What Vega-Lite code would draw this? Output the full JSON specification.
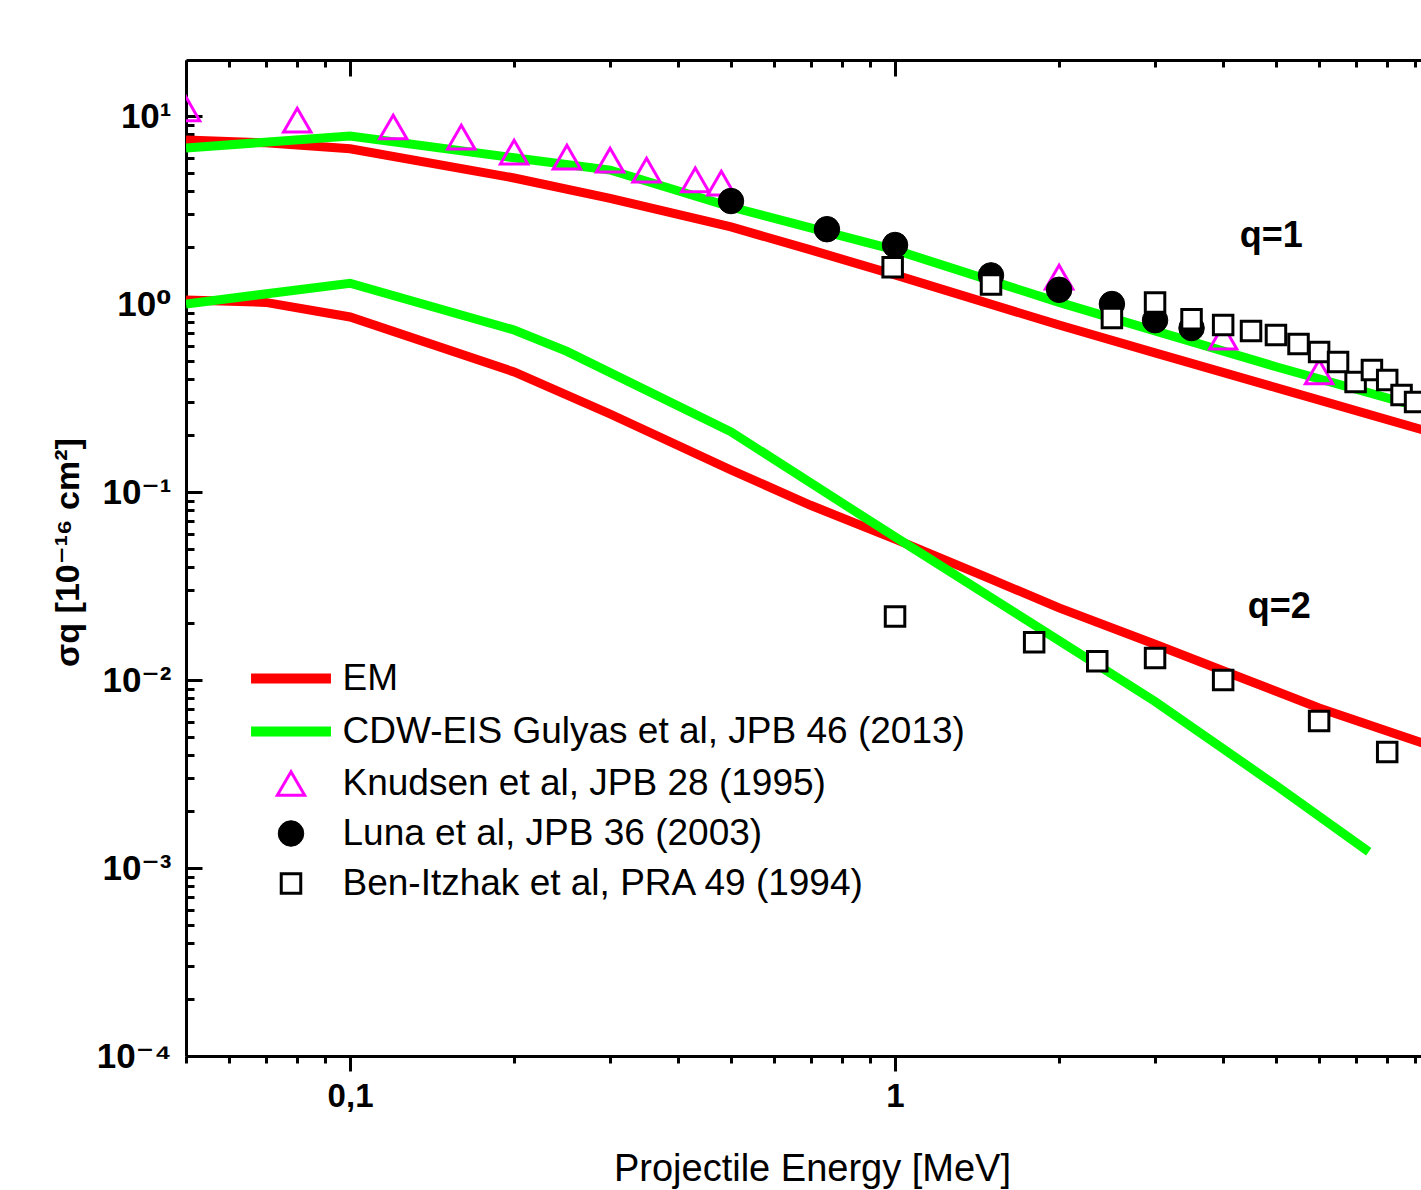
{
  "$schema": "https://vega.github.io/schema/vega-lite/v6.json",
  "width": 1235,
  "height": 996,
  "autosize": {"type": "none"},
  "padding": {"left": 186, "top": 60, "right": 0, "bottom": 134},
  "background": "white",
  "config": {
    "font": "Liberation Sans",
    "view": {"stroke": null},
    "axis": {"domainColor": "black", "domainWidth": 3, "tickColor": "black", "tickWidth": 3, "grid": false, "labelColor": "black", "titleColor": "black", "labelFont": "Liberation Sans, DejaVu Sans", "titleFont": "Liberation Sans, DejaVu Sans"},
    "legend": {"orient": "none", "legendX": 86.5, "legendY": 600, "padding": 0, "rowPadding": 12, "labelFontSize": 37, "labelFont": "Liberation Sans", "labelColor": "black", "labelLimit": 0, "symbolOffset": 0, "labelOffset": 33, "symbolFillColor": "transparent", "labelBaseline": "middle"}
  },
  "datasets": {
    "lines": [
      {"series": "EM", "q": 1, "E": 0.05, "s": 7.45},
      {"series": "EM", "q": 1, "E": 0.07, "s": 7.2},
      {"series": "EM", "q": 1, "E": 0.1, "s": 6.7},
      {"series": "EM", "q": 1, "E": 0.2, "s": 4.68},
      {"series": "EM", "q": 1, "E": 0.3, "s": 3.65},
      {"series": "EM", "q": 1, "E": 0.5, "s": 2.57},
      {"series": "EM", "q": 1, "E": 0.7, "s": 1.94},
      {"series": "EM", "q": 1, "E": 1, "s": 1.43},
      {"series": "EM", "q": 1, "E": 2, "s": 0.773},
      {"series": "EM", "q": 1, "E": 3, "s": 0.55},
      {"series": "EM", "q": 1, "E": 5, "s": 0.359},
      {"series": "EM", "q": 1, "E": 9.3, "s": 0.214},
      {"series": "EM", "q": 2, "E": 0.05, "s": 1.05},
      {"series": "EM", "q": 2, "E": 0.07, "s": 1.02},
      {"series": "EM", "q": 2, "E": 0.1, "s": 0.853},
      {"series": "EM", "q": 2, "E": 0.2, "s": 0.435},
      {"series": "EM", "q": 2, "E": 0.3, "s": 0.26},
      {"series": "EM", "q": 2, "E": 0.5, "s": 0.131},
      {"series": "EM", "q": 2, "E": 0.7, "s": 0.085},
      {"series": "EM", "q": 2, "E": 1, "s": 0.0562},
      {"series": "EM", "q": 2, "E": 1.5, "s": 0.0344},
      {"series": "EM", "q": 2, "E": 2, "s": 0.0242},
      {"series": "EM", "q": 2, "E": 3, "s": 0.0155},
      {"series": "EM", "q": 2, "E": 4, "s": 0.0112},
      {"series": "EM", "q": 2, "E": 6, "s": 0.0071},
      {"series": "EM", "q": 2, "E": 9.3, "s": 0.00462},
      {"series": "CDW-EIS Gulyas et al, JPB 46 (2013)", "q": 1, "E": 0.05, "s": 6.76},
      {"series": "CDW-EIS Gulyas et al, JPB 46 (2013)", "q": 1, "E": 0.1, "s": 7.83},
      {"series": "CDW-EIS Gulyas et al, JPB 46 (2013)", "q": 1, "E": 0.2, "s": 6.0},
      {"series": "CDW-EIS Gulyas et al, JPB 46 (2013)", "q": 1, "E": 0.3, "s": 5.16},
      {"series": "CDW-EIS Gulyas et al, JPB 46 (2013)", "q": 1, "E": 0.5, "s": 3.28},
      {"series": "CDW-EIS Gulyas et al, JPB 46 (2013)", "q": 1, "E": 0.7, "s": 2.54},
      {"series": "CDW-EIS Gulyas et al, JPB 46 (2013)", "q": 1, "E": 1, "s": 1.94},
      {"series": "CDW-EIS Gulyas et al, JPB 46 (2013)", "q": 1, "E": 2, "s": 1.02},
      {"series": "CDW-EIS Gulyas et al, JPB 46 (2013)", "q": 1, "E": 3, "s": 0.72},
      {"series": "CDW-EIS Gulyas et al, JPB 46 (2013)", "q": 1, "E": 5, "s": 0.464},
      {"series": "CDW-EIS Gulyas et al, JPB 46 (2013)", "q": 1, "E": 9.3, "s": 0.28},
      {"series": "CDW-EIS Gulyas et al, JPB 46 (2013)", "q": 2, "E": 0.05, "s": 1.0},
      {"series": "CDW-EIS Gulyas et al, JPB 46 (2013)", "q": 2, "E": 0.1, "s": 1.29},
      {"series": "CDW-EIS Gulyas et al, JPB 46 (2013)", "q": 2, "E": 0.2, "s": 0.727},
      {"series": "CDW-EIS Gulyas et al, JPB 46 (2013)", "q": 2, "E": 0.25, "s": 0.56},
      {"series": "CDW-EIS Gulyas et al, JPB 46 (2013)", "q": 2, "E": 0.5, "s": 0.209},
      {"series": "CDW-EIS Gulyas et al, JPB 46 (2013)", "q": 2, "E": 1, "s": 0.0577},
      {"series": "CDW-EIS Gulyas et al, JPB 46 (2013)", "q": 2, "E": 2, "s": 0.0162},
      {"series": "CDW-EIS Gulyas et al, JPB 46 (2013)", "q": 2, "E": 3, "s": 0.00769},
      {"series": "CDW-EIS Gulyas et al, JPB 46 (2013)", "q": 2, "E": 5, "s": 0.00275},
      {"series": "CDW-EIS Gulyas et al, JPB 46 (2013)", "q": 2, "E": 7.4, "s": 0.00122}
    ],
    "points": [
      {"series": "Knudsen et al, JPB 28 (1995)", "E": 0.05, "s": 10.9},
      {"series": "Knudsen et al, JPB 28 (1995)", "E": 0.08, "s": 9.5},
      {"series": "Knudsen et al, JPB 28 (1995)", "E": 0.12, "s": 8.74},
      {"series": "Knudsen et al, JPB 28 (1995)", "E": 0.16, "s": 7.73},
      {"series": "Knudsen et al, JPB 28 (1995)", "E": 0.2, "s": 6.43},
      {"series": "Knudsen et al, JPB 28 (1995)", "E": 0.25, "s": 6.05},
      {"series": "Knudsen et al, JPB 28 (1995)", "E": 0.3, "s": 5.83},
      {"series": "Knudsen et al, JPB 28 (1995)", "E": 0.35, "s": 5.16},
      {"series": "Knudsen et al, JPB 28 (1995)", "E": 0.43, "s": 4.57},
      {"series": "Knudsen et al, JPB 28 (1995)", "E": 0.48, "s": 4.4},
      {"series": "Knudsen et al, JPB 28 (1995)", "E": 2, "s": 1.39},
      {"series": "Knudsen et al, JPB 28 (1995)", "E": 4, "s": 0.667},
      {"series": "Knudsen et al, JPB 28 (1995)", "E": 6, "s": 0.435},
      {"series": "Luna et al, JPB 36 (2003)", "E": 0.5, "s": 3.53},
      {"series": "Luna et al, JPB 36 (2003)", "E": 0.75, "s": 2.5},
      {"series": "Luna et al, JPB 36 (2003)", "E": 1, "s": 2.06},
      {"series": "Luna et al, JPB 36 (2003)", "E": 1.5, "s": 1.42},
      {"series": "Luna et al, JPB 36 (2003)", "E": 2, "s": 1.19},
      {"series": "Luna et al, JPB 36 (2003)", "E": 2.5, "s": 1.0},
      {"series": "Luna et al, JPB 36 (2003)", "E": 3, "s": 0.82},
      {"series": "Luna et al, JPB 36 (2003)", "E": 3.5, "s": 0.745},
      {"series": "Ben-Itzhak et al, PRA 49 (1994)", "E": 0.99, "s": 1.57},
      {"series": "Ben-Itzhak et al, PRA 49 (1994)", "E": 1.5, "s": 1.27},
      {"series": "Ben-Itzhak et al, PRA 49 (1994)", "E": 2.5, "s": 0.843},
      {"series": "Ben-Itzhak et al, PRA 49 (1994)", "E": 3, "s": 1.02},
      {"series": "Ben-Itzhak et al, PRA 49 (1994)", "E": 3.5, "s": 0.83},
      {"series": "Ben-Itzhak et al, PRA 49 (1994)", "E": 4, "s": 0.773},
      {"series": "Ben-Itzhak et al, PRA 49 (1994)", "E": 4.5, "s": 0.718},
      {"series": "Ben-Itzhak et al, PRA 49 (1994)", "E": 5, "s": 0.684},
      {"series": "Ben-Itzhak et al, PRA 49 (1994)", "E": 5.5, "s": 0.613},
      {"series": "Ben-Itzhak et al, PRA 49 (1994)", "E": 6, "s": 0.556},
      {"series": "Ben-Itzhak et al, PRA 49 (1994)", "E": 6.5, "s": 0.491},
      {"series": "Ben-Itzhak et al, PRA 49 (1994)", "E": 7, "s": 0.385},
      {"series": "Ben-Itzhak et al, PRA 49 (1994)", "E": 7.5, "s": 0.446},
      {"series": "Ben-Itzhak et al, PRA 49 (1994)", "E": 8, "s": 0.394},
      {"series": "Ben-Itzhak et al, PRA 49 (1994)", "E": 8.5, "s": 0.328},
      {"series": "Ben-Itzhak et al, PRA 49 (1994)", "E": 9, "s": 0.301},
      {"series": "Ben-Itzhak et al, PRA 49 (1994)", "E": 1, "s": 0.0218},
      {"series": "Ben-Itzhak et al, PRA 49 (1994)", "E": 1.8, "s": 0.0159},
      {"series": "Ben-Itzhak et al, PRA 49 (1994)", "E": 2.35, "s": 0.0126},
      {"series": "Ben-Itzhak et al, PRA 49 (1994)", "E": 3, "s": 0.0131},
      {"series": "Ben-Itzhak et al, PRA 49 (1994)", "E": 4, "s": 0.01},
      {"series": "Ben-Itzhak et al, PRA 49 (1994)", "E": 6, "s": 0.00605},
      {"series": "Ben-Itzhak et al, PRA 49 (1994)", "E": 8, "s": 0.00414}
    ],
    "labels": [
      {"label": "q=1", "E": 4.9, "s": 2.3},
      {"label": "q=2", "E": 5.07, "s": 0.0244}
    ]
  },
  "resolve": {"axis": {"x": "independent", "y": "independent"}},
  "layer": [
    {
      "data": {"name": "lines"},
      "transform": [{"filter": "datum.series == 'EM'"}],
      "mark": {"type": "line", "strokeWidth": 9, "clip": true, "opacity": 1},
      "encoding": {
        "x": {"field": "E", "type": "quantitative", "scale": {"type": "log", "domain": [0.05, 9.228], "nice": false, "zero": false},
          "axis": {"orient": "bottom", "values": [0.1, 1], "labelExpr": "datum.value < 0.5 ? '0,1' : '1'", "tickSize": 15, "labelPadding": 9, "labelFontSize": 33, "labelFontWeight": "bold", "domain": true, "labelFlush": false, "labelOverlap": false,
            "title": "Projectile Energy [MeV]", "titleFontSize": 38, "titleFontWeight": "normal", "titleX": 626, "titleY": 124, "titleAlign": "center", "titleBaseline": "alphabetic", "titleAnchor": null}},
        "y": {"field": "s", "type": "quantitative", "scale": {"type": "log", "domain": [0.0001, 19.86], "nice": false, "zero": false},
          "axis": {"orient": "left", "values": [0.0001, 0.001, 0.01, 0.1, 1, 10], "labelExpr": "'10' + ['⁻⁴','⁻³','⁻²','⁻¹','⁰','¹'][round(log(datum.value)/LN10)+4]", "ticks": false, "tickSize": 0, "labelPadding": 15, "labelFontSize": 35, "labelFontWeight": "bold", "labelBaseline": "middle", "labelFlush": false, "labelOverlap": false, "domain": true,
            "title": "σq [10⁻¹⁶ cm²]", "titleFontSize": 34, "titleFontWeight": "bold", "titleX": -118, "titleY": 492, "titleAngle": 270, "titleAlign": "center", "titleBaseline": "middle"}},
        "color": {"field": "series", "type": "nominal", "legend": {"title": null, "labelExpr": "datum.label == 'EM' ? '\\u00a0EM' : datum.label"},
          "scale": {"domain": ["EM", "CDW-EIS Gulyas et al, JPB 46 (2013)", "Knudsen et al, JPB 28 (1995)", "Luna et al, JPB 36 (2003)", "Ben-Itzhak et al, PRA 49 (1994)"], "range": ["#ff0000", "#00ff00", "#ff00ff", "#000000", "#000000"]}},
        "detail": {"field": "q", "type": "nominal"}
      }
    },
    {
      "data": {"name": "lines"},
      "transform": [{"filter": "datum.series != 'EM'"}],
      "mark": {"type": "line", "strokeWidth": 9, "clip": true, "opacity": 1},
      "encoding": {
        "x": {"field": "E", "type": "quantitative", "scale": {"type": "log", "domain": [0.05, 9.228], "nice": false, "zero": false},
          "axis": {"orient": "bottom", "values": [0.05, 0.06, 0.07, 0.08, 0.09, 0.2, 0.3, 0.4, 0.5, 0.6, 0.7, 0.8, 0.9, 2, 3, 4, 5, 6, 7, 8, 9], "labels": false, "domain": false, "tickSize": 7, "title": null}},
        "y": {"field": "s", "type": "quantitative", "scale": {"type": "log", "domain": [0.0001, 19.86], "nice": false, "zero": false},
          "axis": {"orient": "left", "values": [0.0001, 0.001, 0.01, 0.1, 1, 10], "labels": false, "domain": false, "tickSize": 16, "offset": -16, "title": null}},
        "color": {"field": "series", "type": "nominal", "legend": {"title": null, "labelExpr": "datum.label == 'EM' ? '\\u00a0EM' : datum.label"},
          "scale": {"domain": ["EM", "CDW-EIS Gulyas et al, JPB 46 (2013)", "Knudsen et al, JPB 28 (1995)", "Luna et al, JPB 36 (2003)", "Ben-Itzhak et al, PRA 49 (1994)"], "range": ["#ff0000", "#00ff00", "#ff00ff", "#000000", "#000000"]}},
        "detail": {"field": "q", "type": "nominal"}
      }
    },
    {
      "data": {"name": "points"},
      "transform": [{"filter": "datum.series == 'Knudsen et al, JPB 28 (1995)'"}],
      "mark": {"type": "point", "filled": false, "clip": true, "opacity": 1},
      "encoding": {
        "x": {"field": "E", "type": "quantitative", "scale": {"type": "log", "domain": [0.05, 9.228], "nice": false, "zero": false},
          "axis": {"orient": "top", "values": [0.1, 1], "labels": false, "domain": false, "tickSize": 16, "offset": -16, "title": null}},
        "y": {"field": "s", "type": "quantitative", "scale": {"type": "log", "domain": [0.0001, 19.86], "nice": false, "zero": false},
          "axis": {"orient": "left", "values": [0.0002, 0.0003, 0.0004, 0.0005, 0.0006, 0.0007, 0.0008, 0.0009, 0.002, 0.003, 0.004, 0.005, 0.006, 0.007, 0.008, 0.009, 0.02, 0.03, 0.04, 0.05, 0.06, 0.07, 0.08, 0.09, 0.2, 0.3, 0.4, 0.5, 0.6, 0.7, 0.8, 0.9, 2, 3, 4, 5, 6, 7, 8, 9], "labels": false, "domain": false, "tickSize": 8, "offset": -8, "title": null}},
        "color": {"field": "series", "type": "nominal", "legend": {"title": null, "labelExpr": "datum.label == 'EM' ? '\\u00a0EM' : datum.label"},
          "scale": {"domain": ["EM", "CDW-EIS Gulyas et al, JPB 46 (2013)", "Knudsen et al, JPB 28 (1995)", "Luna et al, JPB 36 (2003)", "Ben-Itzhak et al, PRA 49 (1994)"], "range": ["#ff0000", "#00ff00", "#ff00ff", "#000000", "#000000"]}},
        "fill": {"field": "series", "type": "nominal", "legend": {"title": null, "labelExpr": "datum.label == 'EM' ? '\\u00a0EM' : datum.label"},
          "scale": {"domain": ["EM", "CDW-EIS Gulyas et al, JPB 46 (2013)", "Knudsen et al, JPB 28 (1995)", "Luna et al, JPB 36 (2003)", "Ben-Itzhak et al, PRA 49 (1994)"], "range": ["transparent", "transparent", "transparent", "#000000", "#ffffff"]}},
        "shape": {"field": "series", "type": "nominal", "legend": {"title": null, "labelExpr": "datum.label == 'EM' ? '\\u00a0EM' : datum.label"},
          "scale": {"domain": ["EM", "CDW-EIS Gulyas et al, JPB 46 (2013)", "Knudsen et al, JPB 28 (1995)", "Luna et al, JPB 36 (2003)", "Ben-Itzhak et al, PRA 49 (1994)"], "range": ["M-3.33,0L3.33,0", "M-3.33,0L3.33,0", "triangle-up", "circle", "square"]}},
        "size": {"field": "series", "type": "nominal", "legend": {"title": null, "labelExpr": "datum.label == 'EM' ? '\\u00a0EM' : datum.label"},
          "scale": {"type": "ordinal", "domain": ["EM", "CDW-EIS Gulyas et al, JPB 46 (2013)", "Knudsen et al, JPB 28 (1995)", "Luna et al, JPB 36 (2003)", "Ben-Itzhak et al, PRA 49 (1994)"], "range": [576, 576, 750, 650, 380]}},
        "strokeWidth": {"field": "series", "type": "nominal", "legend": {"title": null, "labelExpr": "datum.label == 'EM' ? '\\u00a0EM' : datum.label"},
          "scale": {"type": "ordinal", "domain": ["EM", "CDW-EIS Gulyas et al, JPB 46 (2013)", "Knudsen et al, JPB 28 (1995)", "Luna et al, JPB 36 (2003)", "Ben-Itzhak et al, PRA 49 (1994)"], "range": [10, 10, 3, 1, 3]}}
      }
    },
    {
      "data": {"name": "points"},
      "transform": [{"filter": "datum.series == 'Luna et al, JPB 36 (2003)'"}],
      "mark": {"type": "point", "filled": false, "clip": true, "opacity": 1},
      "encoding": {
        "x": {"field": "E", "type": "quantitative", "scale": {"type": "log", "domain": [0.05, 9.228], "nice": false, "zero": false},
          "axis": {"orient": "top", "values": [0.05, 0.06, 0.07, 0.08, 0.09, 0.2, 0.3, 0.4, 0.5, 0.6, 0.7, 0.8, 0.9, 2, 3, 4, 5, 6, 7, 8, 9], "labels": false, "domain": false, "tickSize": 7, "offset": -7, "title": null}},
        "y": {"field": "s", "type": "quantitative", "scale": {"type": "log", "domain": [0.0001, 19.86], "nice": false, "zero": false}, "axis": null},
        "color": {"field": "series", "type": "nominal", "legend": {"title": null, "labelExpr": "datum.label == 'EM' ? '\\u00a0EM' : datum.label"},
          "scale": {"domain": ["EM", "CDW-EIS Gulyas et al, JPB 46 (2013)", "Knudsen et al, JPB 28 (1995)", "Luna et al, JPB 36 (2003)", "Ben-Itzhak et al, PRA 49 (1994)"], "range": ["#ff0000", "#00ff00", "#ff00ff", "#000000", "#000000"]}},
        "fill": {"field": "series", "type": "nominal", "legend": {"title": null, "labelExpr": "datum.label == 'EM' ? '\\u00a0EM' : datum.label"},
          "scale": {"domain": ["EM", "CDW-EIS Gulyas et al, JPB 46 (2013)", "Knudsen et al, JPB 28 (1995)", "Luna et al, JPB 36 (2003)", "Ben-Itzhak et al, PRA 49 (1994)"], "range": ["transparent", "transparent", "transparent", "#000000", "#ffffff"]}},
        "shape": {"field": "series", "type": "nominal", "legend": {"title": null, "labelExpr": "datum.label == 'EM' ? '\\u00a0EM' : datum.label"},
          "scale": {"domain": ["EM", "CDW-EIS Gulyas et al, JPB 46 (2013)", "Knudsen et al, JPB 28 (1995)", "Luna et al, JPB 36 (2003)", "Ben-Itzhak et al, PRA 49 (1994)"], "range": ["M-3.33,0L3.33,0", "M-3.33,0L3.33,0", "triangle-up", "circle", "square"]}},
        "size": {"field": "series", "type": "nominal", "legend": {"title": null, "labelExpr": "datum.label == 'EM' ? '\\u00a0EM' : datum.label"},
          "scale": {"type": "ordinal", "domain": ["EM", "CDW-EIS Gulyas et al, JPB 46 (2013)", "Knudsen et al, JPB 28 (1995)", "Luna et al, JPB 36 (2003)", "Ben-Itzhak et al, PRA 49 (1994)"], "range": [576, 576, 750, 650, 380]}},
        "strokeWidth": {"field": "series", "type": "nominal", "legend": {"title": null, "labelExpr": "datum.label == 'EM' ? '\\u00a0EM' : datum.label"},
          "scale": {"type": "ordinal", "domain": ["EM", "CDW-EIS Gulyas et al, JPB 46 (2013)", "Knudsen et al, JPB 28 (1995)", "Luna et al, JPB 36 (2003)", "Ben-Itzhak et al, PRA 49 (1994)"], "range": [10, 10, 3, 1, 3]}}
      }
    },
    {
      "data": {"name": "points"},
      "transform": [{"filter": "datum.series == 'Ben-Itzhak et al, PRA 49 (1994)'"}],
      "mark": {"type": "point", "filled": false, "clip": true, "opacity": 1},
      "encoding": {
        "x": {"field": "E", "type": "quantitative", "scale": {"type": "log", "domain": [0.05, 9.228], "nice": false, "zero": false},
          "axis": {"orient": "top", "labels": false, "ticks": false, "domain": true, "title": null}},
        "y": {"field": "s", "type": "quantitative", "scale": {"type": "log", "domain": [0.0001, 19.86], "nice": false, "zero": false}, "axis": null},
        "color": {"field": "series", "type": "nominal", "legend": {"title": null, "labelExpr": "datum.label == 'EM' ? '\\u00a0EM' : datum.label"},
          "scale": {"domain": ["EM", "CDW-EIS Gulyas et al, JPB 46 (2013)", "Knudsen et al, JPB 28 (1995)", "Luna et al, JPB 36 (2003)", "Ben-Itzhak et al, PRA 49 (1994)"], "range": ["#ff0000", "#00ff00", "#ff00ff", "#000000", "#000000"]}},
        "fill": {"field": "series", "type": "nominal", "legend": {"title": null, "labelExpr": "datum.label == 'EM' ? '\\u00a0EM' : datum.label"},
          "scale": {"domain": ["EM", "CDW-EIS Gulyas et al, JPB 46 (2013)", "Knudsen et al, JPB 28 (1995)", "Luna et al, JPB 36 (2003)", "Ben-Itzhak et al, PRA 49 (1994)"], "range": ["transparent", "transparent", "transparent", "#000000", "#ffffff"]}},
        "shape": {"field": "series", "type": "nominal", "legend": {"title": null, "labelExpr": "datum.label == 'EM' ? '\\u00a0EM' : datum.label"},
          "scale": {"domain": ["EM", "CDW-EIS Gulyas et al, JPB 46 (2013)", "Knudsen et al, JPB 28 (1995)", "Luna et al, JPB 36 (2003)", "Ben-Itzhak et al, PRA 49 (1994)"], "range": ["M-3.33,0L3.33,0", "M-3.33,0L3.33,0", "triangle-up", "circle", "square"]}},
        "size": {"field": "series", "type": "nominal", "legend": {"title": null, "labelExpr": "datum.label == 'EM' ? '\\u00a0EM' : datum.label"},
          "scale": {"type": "ordinal", "domain": ["EM", "CDW-EIS Gulyas et al, JPB 46 (2013)", "Knudsen et al, JPB 28 (1995)", "Luna et al, JPB 36 (2003)", "Ben-Itzhak et al, PRA 49 (1994)"], "range": [576, 576, 750, 650, 380]}},
        "strokeWidth": {"field": "series", "type": "nominal", "legend": {"title": null, "labelExpr": "datum.label == 'EM' ? '\\u00a0EM' : datum.label"},
          "scale": {"type": "ordinal", "domain": ["EM", "CDW-EIS Gulyas et al, JPB 46 (2013)", "Knudsen et al, JPB 28 (1995)", "Luna et al, JPB 36 (2003)", "Ben-Itzhak et al, PRA 49 (1994)"], "range": [10, 10, 3, 1, 3]}}
      }
    },
    {
      "data": {"name": "labels"},
      "mark": {"type": "text", "fontSize": 36, "fontWeight": "bold", "font": "Liberation Sans", "color": "black", "align": "center", "baseline": "middle"},
      "encoding": {
        "x": {"field": "E", "type": "quantitative", "scale": {"type": "log", "domain": [0.05, 9.228], "nice": false, "zero": false}, "axis": null},
        "y": {"field": "s", "type": "quantitative", "scale": {"type": "log", "domain": [0.0001, 19.86], "nice": false, "zero": false}, "axis": null},
        "text": {"field": "label", "type": "nominal"}
      }
    }
  ]
}
